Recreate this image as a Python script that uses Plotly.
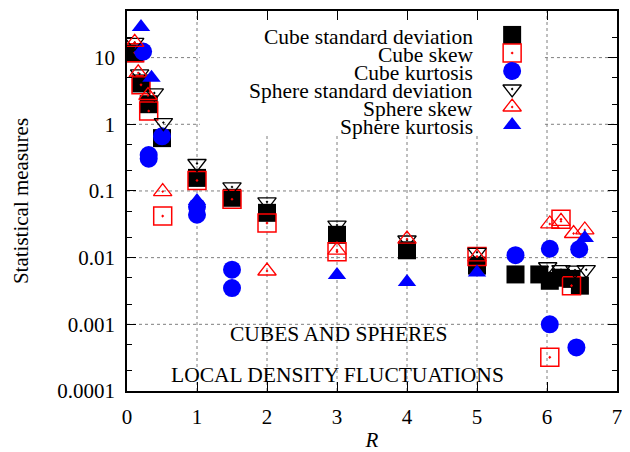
import math
import plotly.graph_objects as go

FONT = "Liberation Serif"

# ---------------- data ----------------
cube_std_R = [0.11, 0.20, 0.31, 0.50, 1.0, 1.5, 2.0, 3.0, 4.0, 5.0, 5.55, 5.89, 6.04, 6.20, 6.35, 6.47]
cube_std = [11.6, 4.1, 2.0, 0.62, 0.157, 0.079, 0.047, 0.022, 0.0129, 0.0076, 0.0056, 0.0056, 0.0045, 0.0050, 0.0048, 0.0038]

cube_skew_R = [0.11, 0.20, 0.31, 0.51, 1.0, 1.5, 2.0, 3.0, 5.0, 6.04, 6.20, 6.35]
cube_skew = [11.8, 3.9, 1.58, 0.042, 0.144, 0.075, 0.033, 0.0123, 0.0104, 0.00032, 0.0375, 0.0038]

cube_kurt_R = [0.23, 0.31, 0.31, 0.50, 1.0, 1.0, 1.5, 1.5, 5.55, 6.04, 6.04, 6.46, 6.42]
cube_kurt = [12.3, 0.345, 0.305, 0.66, 0.058, 0.044, 0.0066, 0.0035, 0.0109, 0.0136, 0.0010, 0.0134, 0.00045]

sphere_std_R = [0.11, 0.18, 0.39, 0.52, 1.0, 1.5, 2.0, 3.0, 4.0, 5.0, 6.01, 6.20, 6.40, 6.56]
sphere_std = [16.9, 5.7, 2.95, 1.06, 0.258, 0.115, 0.0687, 0.0308, 0.0184, 0.012, 0.0073, 0.0066, 0.0065, 0.0066]

sphere_skew_R = [0.11, 0.16, 0.30, 0.51, 2.0, 3.0, 4.0, 5.0, 6.04, 6.20, 6.38, 6.54]
sphere_skew = [16.9, 5.9, 2.7, 0.098, 0.0063, 0.013, 0.019, 0.0103, 0.032, 0.035, 0.023, 0.026]

sphere_kurt_R = [0.20, 0.35, 1.0, 3.0, 4.0, 5.0, 6.54]
sphere_kurt = [28.8, 4.98, 0.071, 0.0055, 0.0043, 0.006, 0.0197]

series_names = ["Cube standard deviation", "Cube skew", "Cube kurtosis",
                "Sphere standard deviation", "Sphere skew", "Sphere kurtosis"]

y_tickvals = [1e-4, 1e-3, 1e-2, 1e-1, 1, 10]
y_ticktext = ["0.0001", "0.001", "0.01", "0.1", "1", "10"]
x_tickvals = [0, 1, 2, 3, 4, 5, 6, 7]

X_RANGE = [0, 7]
Y_RANGE_LOG = [-4, math.log10(50)]

# ---------------- styles ----------------
styles = [
    dict(symbol="square", color="black", size=18),
    dict(symbol="square-open-dot", color="red", size=18, line=dict(width=1.5, color="red")),
    dict(symbol="circle", color="blue", size=18),
    dict(symbol="triangle-down-open-dot", color="black", size=16, line=dict(width=1.3, color="black")),
    dict(symbol="triangle-up-open-dot", color="red", size=16, line=dict(width=1.3, color="red")),
    dict(symbol="triangle-up", color="blue", size=16),
]

xs = [cube_std_R, cube_skew_R, cube_kurt_R, sphere_std_R, sphere_skew_R, sphere_kurt_R]
ys = [cube_std, cube_skew, cube_kurt, sphere_std, sphere_skew, sphere_kurt]

fig = go.Figure()
for name, x, y, st in zip(series_names, xs, ys, styles):
    fig.add_trace(go.Scatter(x=x, y=y, mode="markers", name=name, marker=st,
                             showlegend=False, cliponaxis=False))


def frac_to_data(fx, fy):
    """Convert a position given as a fraction of the plot area to axis values."""
    return (X_RANGE[0] + fx * (X_RANGE[1] - X_RANGE[0]),
            10 ** (Y_RANGE_LOG[0] + fy * (Y_RANGE_LOG[1] - Y_RANGE_LOG[0])))


def data_to_frac(x=None, y=None):
    if x is not None:
        return (x - X_RANGE[0]) / (X_RANGE[1] - X_RANGE[0])
    return (math.log10(y) - Y_RANGE_LOG[0]) / (Y_RANGE_LOG[1] - Y_RANGE_LOG[0])


# ---------------- custom key (text left of symbol, like the original) ----------------
key_x_sym = 0.786      # fraction of plot width
key_x_txt = 0.710
key_top = 0.937        # fraction of plot height for first row
key_step = 0.0474
key_box = dict(x0=0.1485, x1=0.853, y0=0.675, y1=1.0)   # opaque key background (fractions)

annotations = []
for i, (name, st) in enumerate(zip(series_names, styles)):
    yk = key_top - i * key_step
    kx, ky = frac_to_data(key_x_sym, yk)
    fig.add_trace(go.Scatter(x=[kx], y=[ky], mode="markers", marker=st,
                             showlegend=False, hoverinfo="skip", cliponaxis=False))
    annotations.append(dict(text=name, xref="x domain", yref="y domain", x=key_x_txt, y=yk,
                            xanchor="right", yanchor="middle", showarrow=False,
                            yshift=-2, font=dict(family=FONT, size=21.5, color="black")))

annotations.append(dict(text="CUBES AND SPHERES", xref="x domain", yref="y domain", x=0.431, y=0.150,
                        xanchor="center", yanchor="middle", showarrow=False,
                        font=dict(family=FONT, size=21.5, color="black")))
annotations.append(dict(text="LOCAL DENSITY FLUCTUATIONS", xref="x domain", yref="y domain", x=0.430, y=0.042,
                        xanchor="center", yanchor="middle", showarrow=False,
                        font=dict(family=FONT, size=21.5, color="black")))

# ---------------- dotted grid, interrupted by the opaque key box ----------------
grid_line = dict(color="#7f7f7f", width=1, dash="dot")
shapes = []
for xv in x_tickvals[1:-1]:
    fx = data_to_frac(x=xv)
    if key_box["x0"] < fx < key_box["x1"]:
        segs = [(0, key_box["y0"])]
    else:
        segs = [(0, 1)]
    for a, b in segs:
        shapes.append(dict(type="line", xref="x domain", yref="y domain", x0=fx, x1=fx, y0=a, y1=b,
                           line=grid_line, layer="below"))
for yv in y_tickvals[1:]:
    fy = data_to_frac(y=yv)
    if key_box["y0"] < fy < key_box["y1"]:
        segs = [(0, key_box["x0"]), (key_box["x1"], 1)]
    else:
        segs = [(0, 1)]
    for a, b in segs:
        shapes.append(dict(type="line", xref="x domain", yref="y domain", x0=a, x1=b, y0=fy, y1=fy,
                           line=grid_line, layer="below"))

axis_common = dict(showline=True, linecolor="black", linewidth=1.5, mirror="ticks",
                   ticks="inside", tickcolor="black", tickwidth=1, ticklen=9,
                   showgrid=False, zeroline=False,
                   tickfont=dict(family=FONT, size=21, color="black"))

# the page body adds an 8 px offset, so the figure is 8 px smaller and margins shifted
fig.update_layout(
    width=622, height=444,
    margin=dict(l=119, r=13, t=1, b=61),
    paper_bgcolor="white", plot_bgcolor="white",
    showlegend=False,
    font=dict(family=FONT, size=21, color="black"),
    xaxis=dict(range=X_RANGE, tickvals=x_tickvals, ticklabelstandoff=6,
               title=dict(text="<i>R</i>", standoff=7, font=dict(family=FONT, size=21)),
               **axis_common),
    yaxis=dict(type="log", range=Y_RANGE_LOG, tickvals=y_tickvals, ticktext=y_ticktext,
               ticklabelstandoff=6,
               minor=dict(dtick="D2", ticks="inside", ticklen=5, tickcolor="black", showgrid=False),
               title=dict(text="Statistical measures", standoff=23, font=dict(family=FONT, size=21)),
               **axis_common),
    shapes=shapes,
    annotations=annotations,
)

fig.write_html("out.html")
